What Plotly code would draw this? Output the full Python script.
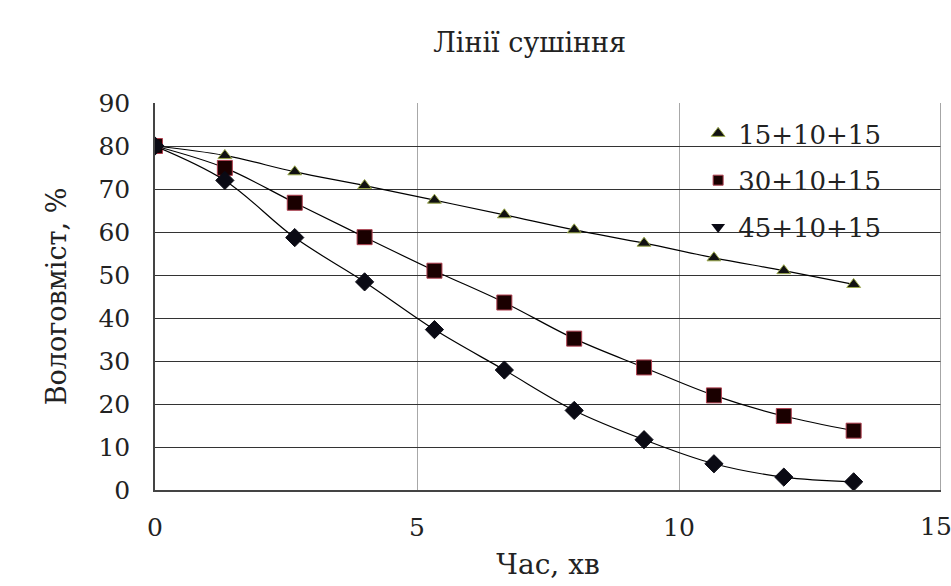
import plotly.graph_objects as go

time_min = [0, 1.333, 2.667, 4.0, 5.333, 6.667, 8.0, 9.333, 10.667, 12.0, 13.333]
s_15 = [80, 77.8, 74.0, 70.8, 67.4, 64.0, 60.5, 57.4, 54.0, 51.0, 47.8]
s_30 = [80, 74.9, 66.8, 58.8, 51.0, 43.6, 35.2, 28.5, 22.0, 17.2, 13.8]
s_45 = [80, 72.0, 58.7, 48.4, 37.3, 27.9, 18.5, 11.7, 6.1, 3.0, 1.9]
names = ["15+10+15", "30+10+15", "45+10+15"]

FONT = "DejaVu Serif"
TXT = "#222222"

m15 = dict(symbol="triangle-up", size=12, color="#111111", line=dict(color="#9aa84a", width=1))
m30 = dict(symbol="square", size=15, color="#1a0000", line=dict(color="#b04050", width=1))
m45 = dict(symbol="diamond", size=14, color="#0a0a14", line=dict(color="#0a0a14", width=1))
line = dict(color="black", width=1.2, shape="spline")

fig = go.Figure()
for ys, mk in [(s_15, m15), (s_30, m30), (s_45, m45)]:
    fig.add_trace(go.Scatter(x=time_min, y=ys, mode="lines+markers",
                             line=line, marker=mk, showlegend=False))

leg_markers = [
    dict(symbol="triangle-up", size=12, color="#111111", line=dict(color="#9aa84a", width=1)),
    dict(symbol="square", size=10, color="#1a0000", line=dict(color="#b04050", width=1)),
    dict(symbol="triangle-down", size=12, color="#0a0a14"),
]
for i, (nm, mk) in enumerate(zip(names, leg_markers)):
    fig.add_trace(go.Scatter(x=[None], y=[None], mode="markers", name=nm,
                             marker=mk, legendgroup=f"g{i}"))

fig.add_annotation(x=15, xref="x", y=-0.0956, yref="paper", text="15",
                   showarrow=False, xanchor="center", yanchor="middle", xshift=-5,
                   font=dict(family=FONT, size=25, color=TXT))
fig.add_shape(type="line", xref="x", yref="paper", x0=15, x1=15, y0=0, y1=1,
              line=dict(color="#888888", width=1.5))

fig.update_layout(
    width=951, height=586,
    margin=dict(l=155, r=10, t=103, b=96, autoexpand=False),
    paper_bgcolor="white", plot_bgcolor="white",
    font=dict(family=FONT, size=25, color=TXT),
    title=dict(text="Лінії сушіння", x=0.557, xanchor="center",
               y=0.928, yanchor="middle",
               font=dict(family=FONT, size=27, color=TXT)),
    showlegend=True,
    legend=dict(x=0.691, y=0.982, xanchor="left", yanchor="top",
                bgcolor="rgba(0,0,0,0)", tracegroupgap=10,
                itemwidth=30,
                font=dict(family=FONT, size=26, color=TXT)),
)

fig.update_xaxes(
    range=[0, 15], dtick=5, tick0=0, automargin=False,
    showgrid=True, gridcolor="#a8a8a8", gridwidth=1,
    showline=True, linecolor="#444444", linewidth=1.5,
    zeroline=False, ticks="", ticklabelstandoff=14,
    tickfont=dict(family=FONT, size=25, color=TXT),
    title=dict(text="Час, хв", standoff=14,
               font=dict(family=FONT, size=28, color=TXT)),
)
fig.update_yaxes(
    range=[0, 90], dtick=10, tick0=0, automargin=False,
    showgrid=True, gridcolor="#333333", gridwidth=1.2,
    showline=True, linecolor="#444444", linewidth=1.5,
    zeroline=False, ticks="", ticklabelstandoff=18,
    tickfont=dict(family=FONT, size=25, color=TXT),
    title=dict(text="Вологовміст, %", standoff=24,
               font=dict(family=FONT, size=27, color=TXT)),
)

fig.write_html("out.html", config={"displayModeBar": False},
               post_script="document.body.style.margin='0';")
